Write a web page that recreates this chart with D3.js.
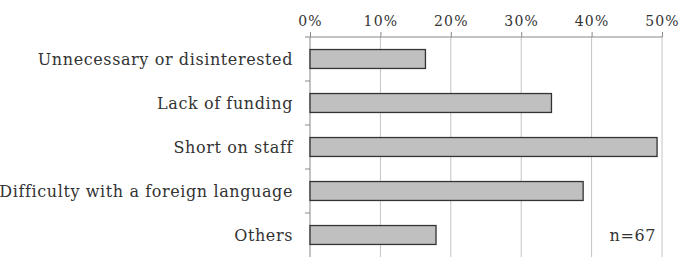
<!DOCTYPE html>
<html>
<head>
<meta charset="utf-8">
<script src="https://d3js.org/d3.v7.min.js"></script>
<style>
  body { margin: 0; background: #fff; }
  svg text { font-family: "DejaVu Serif", "Liberation Serif", serif; fill: #333; }
</style>
</head>
<body>
<div id="chart"></div>
<script>
  // data
  var categories = ["Unnecessary or disinterested", "Lack of funding", "Short on staff",
                    "Difficulty with a foreign language", "Others"];
  var values = [16.4, 34.3, 49.3, 38.8, 17.9];
  var tickValues = [0, 10, 20, 30, 40, 50];
  var note = "n=67";

  var width = 684, height = 257;
  var margin = {top: 37, right: 22, bottom: 0, left: 310};

  var svg = d3.select("#chart").append("svg")
    .attr("width", width)
    .attr("height", height);

  var x = d3.scaleLinear().domain([0, 50]).range([margin.left, width - margin.right]);
  var y = d3.scaleBand().domain(categories).range([margin.top, height - margin.bottom])
    .paddingInner(0.57).paddingOuter(0.285);

  // gridlines
  svg.append("g").selectAll("line")
    .data(tickValues.slice(1))
    .join("line")
    .attr("x1", d => x(d)).attr("x2", d => x(d))
    .attr("y1", margin.top).attr("y2", height)
    .attr("stroke", "#c4c4c4").attr("stroke-width", 1);

  // top axis
  var xAxis = svg.append("g")
    .attr("transform", "translate(0," + margin.top + ")")
    .call(d3.axisTop(x).tickValues(tickValues).tickFormat(d => d + "%").tickSizeOuter(0).tickSize(5));
  xAxis.select(".domain").attr("stroke", "#888").attr("d", "M" + (margin.left - 5) + ",0H" + x(50));
  xAxis.selectAll(".tick line").attr("stroke", "#888");
  xAxis.selectAll(".tick text").attr("font-size", 14).attr("dy", "-0.25em")
    .style("font-family", "DejaVu Serif, serif").style("letter-spacing", "1.2px").attr("fill", "#333");

  // left axis with ticks at band boundaries
  var bandEdges = categories.slice(1).map(c => y(c) - y.step() * y.paddingInner() / 2);
  svg.append("line")
    .attr("x1", margin.left).attr("x2", margin.left)
    .attr("y1", margin.top).attr("y2", height)
    .attr("stroke", "#888");
  svg.append("g").selectAll("line")
    .data(bandEdges)
    .join("line")
    .attr("x1", margin.left - 5).attr("x2", margin.left)
    .attr("y1", d => d).attr("y2", d => d)
    .attr("stroke", "#888");

  // category labels
  svg.append("g").selectAll("text")
    .data(categories)
    .join("text")
    .attr("x", margin.left - 17)
    .attr("y", d => y(d) + y.bandwidth() / 2)
    .attr("dy", "0.35em")
    .attr("text-anchor", "end")
    .attr("font-size", 16)
    .style("letter-spacing", "0.6px")
    .text(d => d);

  // bars
  svg.append("g").selectAll("rect")
    .data(values)
    .join("rect")
    .attr("x", x(0))
    .attr("y", (d, i) => y(categories[i]))
    .attr("width", d => x(d) - x(0))
    .attr("height", y.bandwidth())
    .attr("fill", "#c0c0c0")
    .attr("stroke", "#333")
    .attr("stroke-width", 1.3);

  // note
  svg.append("text")
    .attr("x", x(50) - 6)
    .attr("y", y(categories[4]) + y.bandwidth() / 2)
    .attr("dy", "0.35em")
    .attr("text-anchor", "end")
    .attr("font-size", 16)
    .style("letter-spacing", "0.6px")
    .text(note);
</script>
</body>
</html>
